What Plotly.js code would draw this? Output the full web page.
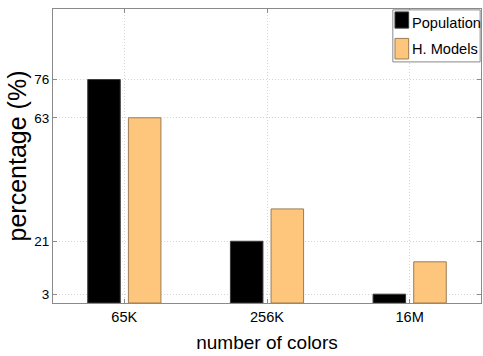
<!DOCTYPE html>
<html>
<head>
<meta charset="utf-8">
<script src="https://cdn.plot.ly/plotly-3.0.1.min.js"></script>
<style>html,body{margin:0;padding:0;background:#fff;}#chart{width:483px;height:356px;}</style>
</head>
<body>
<div id="chart"></div>
<script>
const categories = ["65K", "256K", "16M"];
const seriesNames = ["Population", "H. Models"];
const population = [76, 21, 3];
const hModels = [63, 32, 14];
const yTickVals = [3, 21, 63, 76];
const yTickText = ["3", "21", "63", "76"];

const FONT = "Liberation Sans, Arial, Helvetica, sans-serif";
const colors = ["#000000", "#FEC67C"];
const edges = ["#3a3a3a", "#9c7c52"];

const traces = [
  {type: "bar", x: categories, y: population, name: seriesNames[0],
   marker: {color: colors[0], line: {color: edges[0], width: 1}}, showlegend: false, hoverinfo: "none"},
  {type: "bar", x: categories, y: hModels, name: seriesNames[1],
   marker: {color: colors[1], line: {color: edges[1], width: 1}}, showlegend: false, hoverinfo: "none"}
];

// legend geometry (paper coords)
const L = {x0: 0.794, x1: 0.998, y0: 0.820, y1: 0.997};
const shapes = [
  {type: "rect", xref: "paper", yref: "paper", x0: L.x0, x1: L.x1, y0: L.y0, y1: L.y1,
   line: {color: "#8a8a8a", width: 1}, fillcolor: "#ffffff", layer: "above"},
  {type: "rect", xref: "paper", yref: "paper", x0: 0.799, x1: 0.831, y0: 0.935, y1: 0.990,
   line: {color: edges[0], width: 1}, fillcolor: colors[0], layer: "above"},
  {type: "rect", xref: "paper", yref: "paper", x0: 0.799, x1: 0.831, y0: 0.830, y1: 0.900,
   line: {color: edges[1], width: 1}, fillcolor: colors[1], layer: "above"}
];
const annotations = [
  {xref: "paper", yref: "paper", x: 0.833, y: 0.952, text: seriesNames[0], showarrow: false,
   xanchor: "left", yanchor: "middle", font: {family: FONT, size: 14.6, color: "#000"}},
  {xref: "paper", yref: "paper", x: 0.833, y: 0.864, text: seriesNames[1], showarrow: false,
   xanchor: "left", yanchor: "middle", font: {family: FONT, size: 14.6, color: "#000"}}
];

const layout = {
  width: 483, height: 356,
  margin: {l: 53, r: 2, t: 9, b: 53},
  paper_bgcolor: "#ffffff", plot_bgcolor: "#ffffff",
  barmode: "group", bargap: 0.43, bargroupgap: 0.2,
  font: {family: FONT, color: "#000"},
  xaxis: {
    type: "category", range: [-0.5, 2.5],
    showline: true, linecolor: "#8a8a8a", linewidth: 1, mirror: "ticks",
    ticks: "inside", ticklen: 4, tickcolor: "#8a8a8a",
    showgrid: true, gridcolor: "#d4d4d4", griddash: "1px,2px", gridwidth: 1,
    tickfont: {family: FONT, size: 14.6, color: "#000"},
    ticklabelstandoff: 0,
    title: {text: "number of colors", font: {family: FONT, size: 19, color: "#000"}, standoff: 12},
    zeroline: false, fixedrange: true
  },
  yaxis: {
    range: [0, 100], tickvals: yTickVals, ticktext: yTickText,
    showline: true, linecolor: "#8a8a8a", linewidth: 1, mirror: "ticks",
    ticks: "inside", ticklen: 4, tickcolor: "#8a8a8a",
    showgrid: true, gridcolor: "#d4d4d4", griddash: "1px,2px", gridwidth: 1,
    tickfont: {family: FONT, size: 13.5, color: "#000"},
    title: {text: "percentage (%)", font: {family: FONT, size: 25, color: "#000"}, standoff: 0},
    zeroline: false, fixedrange: true
  },
  shapes: shapes,
  annotations: annotations
};

Plotly.newPlot("chart", traces, layout, {staticPlot: true, displayModeBar: false});
</script>
</body>
</html>
